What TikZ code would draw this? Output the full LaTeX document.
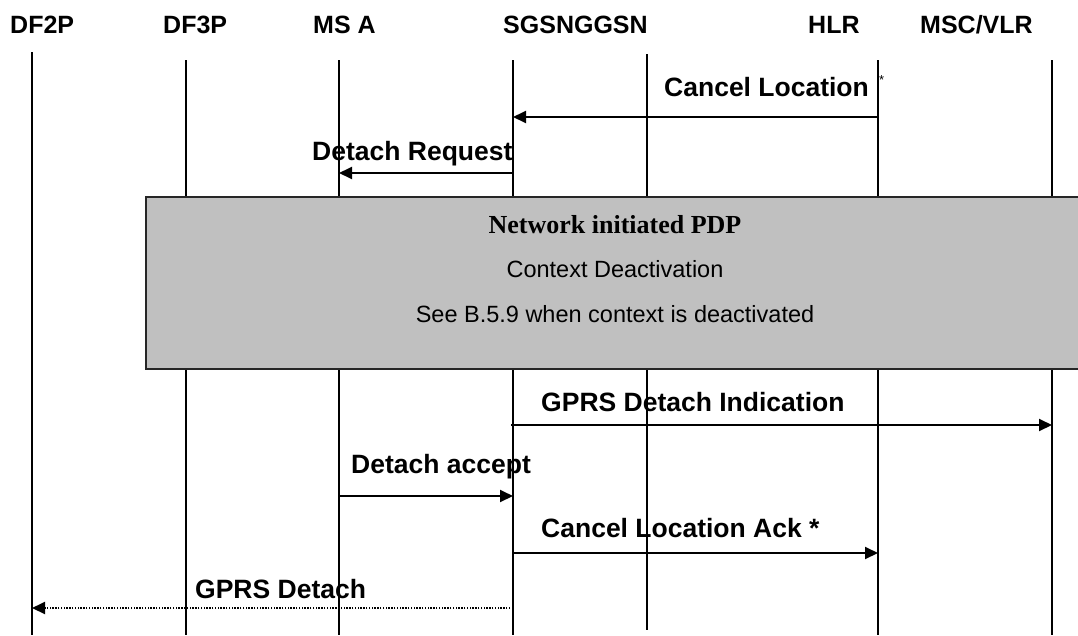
\documentclass[tikz,border=0pt]{standalone}
\usepackage{fontspec}
\setmainfont{Liberation Sans}
\newfontfamily\boxserif{Liberation Serif}
\usetikzlibrary{arrows.meta}
\definecolor{boxgray}{RGB}{192,192,192}
\begin{document}
\begin{tikzpicture}[x=1pt,y=-1pt,
  hdr/.style={anchor=base west,inner sep=0pt,font=\fontsize{25}{30}\selectfont\bfseries},
  lbl/.style={anchor=base west,inner sep=0pt,font=\fontsize{26.5}{30}\selectfont\bfseries},
  boxtxt/.style={anchor=base,inner sep=0pt,font=\fontsize{23.5}{28}\selectfont},
  boxttl/.style={anchor=base,inner sep=0pt,font=\fontsize{26}{30}\selectfont\boxserif\bfseries},
  life/.style={line width=1.3pt,black},
  msg/.style={line width=1.9pt,black,-{Triangle[length=13pt,width=12pt]}},
  dotmsg/.style={msg,dash pattern=on 1.4pt off 1.4pt}]
\useasboundingbox (0,0) rectangle (1078,635);
\fill[white] (0,0) rectangle (1078,635);

% headers
\node[hdr] (hdf2p) at (10,33) {DF2P};
\node[hdr] (hdf3p) at (163,33) {DF3P};
\node[hdr] (hmsa)  at (313,33) {MS A};
\node[hdr] (hsg)   at (503,33) {SGSNGGSN};
\node[hdr] (hhlr)  at (808,33) {HLR};
\node[hdr] (hmsc)  at (920,33) {MSC/VLR};

% lifelines
\coordinate (df2pT) at (32,52);   \coordinate (df2pB) at (32,635);
\coordinate (df3pT) at (186,60);  \coordinate (df3pB) at (186,635);
\coordinate (msaT)  at (339,60);  \coordinate (msaB)  at (339,635);
\coordinate (sgsnT) at (513,60);  \coordinate (sgsnB) at (513,635);
\coordinate (ggsnT) at (647,54);  \coordinate (ggsnB) at (647,630);
\coordinate (hlrT)  at (878,60);  \coordinate (hlrB)  at (878,635);
\coordinate (mscT)  at (1052,60); \coordinate (mscB)  at (1052,635);
\foreach \n in {df2p,df3p,msa,sgsn,ggsn,hlr,msc}
  \draw[life] (\n T) -- (\n B);

% grey box
\coordinate (boxTL) at (146,197);
\coordinate (boxBL) at (146,369);
\coordinate (boxTR) at (1078,197);
\coordinate (boxBR) at (1078,369);
\fill[boxgray] (boxTL) rectangle (boxBR);
\draw[line width=1.8pt,black!85] (boxTR) -- (boxTL) -- (boxBL) -- (boxBR);
\node[boxttl] (pdp1) at (615,233) {Network initiated PDP};
\node[boxtxt] (pdp2) at (615,277) {Context Deactivation};
\node[boxtxt] (pdp3) at (615,322) {See B.5.9 when context is deactivated};

% message end points
\coordinate (clA)  at (878,117);  \coordinate (clB)  at (513,117);
\coordinate (drA)  at (513,173);  \coordinate (drB)  at (339,173);
\coordinate (gdiA) at (511,425);  \coordinate (gdiB) at (1052,425);
\coordinate (daA)  at (339,496);  \coordinate (daB)  at (513,496);
\coordinate (claA) at (513,553);  \coordinate (claB) at (878,553);
\coordinate (gdA)  at (513,608);  \coordinate (gdB)  at (32,608);

% messages
\draw[msg] (clA) -- (clB);
\draw[msg] (drA) -- (drB);
\draw[msg] (gdiA) -- (gdiB);
\draw[msg] (daA) -- (daB);
\draw[msg] (claA) -- (claB);
\draw[dotmsg] (gdA) -- (gdB);

% labels
\node[lbl] (lcl)  at (664,96)  {Cancel Location};
\node[anchor=north west,inner sep=0pt,font=\fontsize{13}{13}\selectfont] (lclst) at (879,75) {*};
\node[lbl] (ldr)  at (312,160) {Detach Request};
\node[lbl] (lgdi) at (541,411) {GPRS Detach Indication};
\node[lbl] (lda)  at (351,473) {Detach accept};
\node[lbl] (lcla) at (541,537) {Cancel Location Ack *};
\node[lbl] (lgd)  at (195,598) {GPRS Detach};
\end{tikzpicture}
\end{document}
